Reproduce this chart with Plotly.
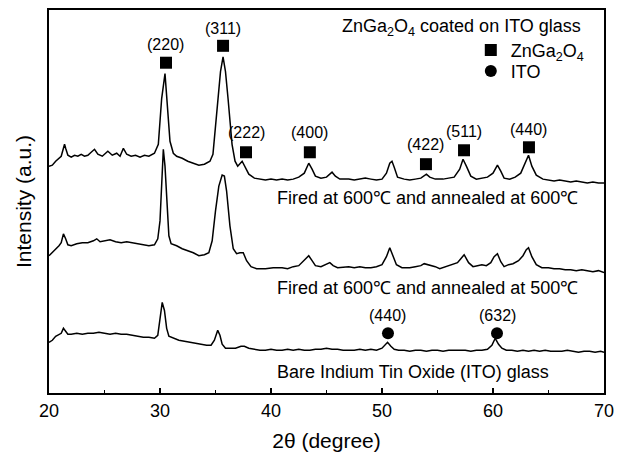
import plotly.graph_objects as go

# ---------------- data (2-theta in degrees, intensity in arbitrary units) ----------------
x_top = [20.0,20.3,20.6,20.9,21.1,21.3,21.4,21.5,21.7,22.0,
         22.3,22.6,22.9,23.2,23.5,23.8,24.1,24.4,24.8,25.3,
         25.7,26.1,26.4,26.7,27.0,27.4,27.8,28.2,28.6,29.0,
         29.5,29.85,30.15,30.45,30.7,30.9,31.2,31.5,32.0,32.5,
         33.0,33.5,34.0,34.5,34.77,35.0,35.23,35.45,35.68,35.9,
         36.13,36.49,36.76,37.0,37.4,37.7,38.0,38.5,39.0,39.5,
         40.0,40.5,41.0,41.5,42.0,42.5,43.0,43.4,43.7,44.0,
         44.5,45.0,45.5,45.8,46.2,47.0,47.5,48.0,48.5,49.0,
         49.5,50.0,50.4,50.7,50.9,51.1,51.4,52.0,52.5,53.0,
         53.5,54.0,54.3,54.8,55.5,56.0,56.5,57.0,57.3,57.6,
         58.0,58.5,59.0,59.5,60.0,60.4,60.7,61.0,61.5,62.0,
         62.5,62.9,63.2,63.5,63.9,64.5,65.0,65.5,66.0,66.5,
         67.0,67.5,68.0,68.5,69.0,69.5,70.0]
y_top = [228,229,233,236,238,246,250,246,239,237,
         239,238,240,238,239,242,245,240,238,243,
         239,241,238,246,240,238,239,237,239,238,
         241,250,296,321,280,253,241,238,236,233,
         231,229,230,233,240,268,296,323,338,323,
         296,250,233,228,233,226,220,216,215,214,
         215,214,215,214,215,217,221,231,225,218,
         216,217,222,218,215,215,214,215,216,215,
         214,215,221,231,233,227,217,215,214,215,
         216,220,217,215,215,216,217,225,235,228,
         218,215,216,217,221,229,223,216,215,217,
         221,231,239,228,219,215,214,213,214,213,
         212,213,212,211,212,211,211]

x_mid = [20.0,20.3,20.6,20.9,21.1,21.3,21.5,21.7,22.0,22.5,
         23.0,23.5,24.0,24.3,24.6,25.0,25.5,26.0,26.5,27.0,
         27.5,28.0,28.5,29.0,29.5,29.8,30.0,30.15,30.3,30.45,
         30.6,30.8,31.0,31.5,32.0,32.5,33.0,33.5,34.0,34.4,
         34.7,35.0,35.3,35.6,35.8,36.0,36.3,36.6,36.9,37.2,
         37.5,37.8,38.2,38.7,39.5,40.2,41.0,41.5,42.0,42.5,
         43.0,43.4,43.7,44.0,44.5,45.0,45.3,45.6,46.0,47.0,
         47.5,48.0,48.5,49.0,49.5,50.0,50.4,50.7,51.0,51.3,
         51.8,52.5,53.0,53.5,53.8,54.2,54.8,55.2,55.8,56.3,
         56.8,57.1,57.4,57.8,58.2,58.6,59.0,59.4,59.8,60.1,
         60.4,60.7,61.0,61.4,61.8,62.3,62.7,63.0,63.2,63.5,
         63.9,64.4,65.0,65.5,66.0,66.5,67.0,67.5,68.0,68.5,
         69.0,69.5,70.0]
y_mid = [138,141,145,148,151,160,155,149,148,150,
         151,151,153,155,152,153,154,152,151,152,
         151,150,149,148,149,155,173,213,245,228,
         193,158,150,148,145,143,141,138,139,141,
         153,183,208,219,218,203,168,145,140,141,
         141,133,127,125,125,126,126,125,127,128,
         133,138,133,128,127,129,131,128,126,127,
         126,127,126,126,127,129,137,146,138,129,
         126,126,127,128,130,129,127,125,127,129,
         131,135,139,131,127,128,129,128,131,137,
         140,132,127,129,130,133,138,144,146,137,
         129,126,126,125,125,124,124,123,124,123,
         122,123,121]

x_bot = [20.0,20.3,20.6,20.9,21.1,21.3,21.5,21.7,22.0,22.5,
         23.0,23.5,24.0,24.5,25.0,25.5,26.0,26.5,27.0,27.5,
         28.0,28.5,29.0,29.5,29.8,30.0,30.2,30.4,30.6,30.8,
         31.2,31.7,32.2,32.7,33.2,33.7,34.2,34.6,34.9,35.2,
         35.4,35.6,35.9,36.3,36.8,37.3,37.6,38.0,38.5,39.0,
         39.5,40.0,40.5,41.0,41.5,42.0,42.5,43.0,43.5,44.0,
         44.5,45.0,45.5,46.0,46.5,47.0,47.5,48.0,48.5,49.0,
         49.5,50.0,50.3,50.5,50.8,51.1,51.5,52.0,52.5,53.0,
         53.5,54.0,54.5,55.0,55.5,56.0,56.5,57.0,57.5,58.0,
         58.5,59.0,59.5,59.9,60.2,60.5,60.8,61.2,61.7,62.2,
         62.7,63.2,63.7,64.2,64.7,65.2,65.7,66.2,66.7,67.2,
         67.7,68.2,68.7,69.2,69.7,70.0]
y_bot = [51,53,57,59,60,65,62,59,59,60,
         59,60,60,61,60,59,60,59,59,58,
         57,56,56,55,58,73,91,83,65,57,
         55,53,52,51,50,49,48,48,53,63,
         58,49,45,45,45,47,47,45,44,43,
         43,44,43,43,44,43,44,43,43,44,
         44,45,44,44,43,43,43,44,43,44,
         43,45,48,51,47,44,43,43,42,43,
         43,42,43,43,42,43,43,43,43,42,
         43,43,44,48,55,49,45,43,43,42,
         43,42,43,42,43,42,42,42,43,42,
         41,42,42,41,42,41]

# ZnGa2O4 reflections (square markers)
zn_hkl = ["(220)", "(311)", "(222)", "(400)", "(422)", "(511)", "(440)"]
zn_x = [30.54, 35.68, 37.75, 43.5, 53.96, 57.39, 63.24]
zn_y = [332, 349, 242, 242, 230, 244, 247]
zn_label_y = [350, 366, 262, 262, 250, 263, 265]

# ITO reflections (circle markers)
ito_hkl = ["(440)", "(632)"]
ito_x = [50.54, 60.36]
ito_y = [60, 60]
ito_label_y = [78, 78]

curve_labels = ["Fired at 600\u2103 and annealed at 600\u2103",
                "Fired at 600\u2103 and annealed at 500\u2103",
                "Bare Indium Tin Oxide (ITO) glass"]
curve_label_y = [196, 106, 21]
curve_label_x = 40.36

FONT = "Arial, 'Liberation Sans', Helvetica, sans-serif"

fig = go.Figure()
for xs, ys in [(x_top, y_top), (x_mid, y_mid), (x_bot, y_bot)]:
    fig.add_trace(go.Scatter(x=xs, y=ys, mode="lines",
                             line=dict(color="black", width=1.5),
                             showlegend=False, hoverinfo="skip"))

fig.add_trace(go.Scatter(x=zn_x, y=zn_y, mode="markers",
                         marker=dict(symbol="square", size=12, color="black"),
                         name="ZnGa<sub>2</sub>O<sub>4</sub>", legend="legend"))
fig.add_trace(go.Scatter(x=ito_x, y=ito_y, mode="markers",
                         marker=dict(symbol="circle", size=12, color="black"),
                         name="ITO", legend="legend2"))

annotations = []
for lab, xx, yy in zip(zn_hkl, zn_x, zn_label_y):
    annotations.append(dict(x=xx, y=yy, xref="x", yref="y", text=lab, showarrow=False,
                            font=dict(size=16, color="black", family=FONT)))
for lab, xx, yy in zip(ito_hkl, ito_x, ito_label_y):
    annotations.append(dict(x=xx, y=yy, xref="x", yref="y", text=lab, showarrow=False,
                            font=dict(size=16, color="black", family=FONT)))
for lab, yy in zip(curve_labels, curve_label_y):
    annotations.append(dict(x=curve_label_x, y=yy, xref="x", yref="y", text=lab,
                            showarrow=False, xanchor="left",
                            font=dict(size=18, color="black", family=FONT)))
annotations.append(dict(x=0.962, y=0.955, xref="paper", yref="paper",
                        text="ZnGa<sub>2</sub>O<sub>4</sub> coated on ITO glass",
                        showarrow=False, xanchor="right", yanchor="middle",
                        font=dict(size=18, color="black", family=FONT)))

legend_style = dict(xanchor="left", yanchor="top", bgcolor="rgba(0,0,0,0)",
                    font=dict(size=18), itemwidth=30)

fig.update_layout(
    width=627, height=461,
    margin=dict(l=49, r=23, t=8, b=68),
    paper_bgcolor="white", plot_bgcolor="white",
    font=dict(family=FONT, size=18, color="black"),
    annotations=annotations,
    legend=dict(x=0.76, y=0.943, **legend_style),
    legend2=dict(x=0.76, y=0.888, **legend_style),
    xaxis=dict(range=[20, 70], tickmode="array", tickvals=[20, 30, 40, 50, 60, 70],
               ticks="inside", ticklen=5, tickwidth=1.5, tickcolor="black",
               minor=dict(tickvals=[25, 35, 45, 55, 65], ticks="inside", ticklen=3,
                          tickwidth=1.2, tickcolor="black"),
               showline=True, linecolor="black", linewidth=2, mirror=True,
               showgrid=False, zeroline=False,
               tickfont=dict(size=18),
               title=dict(text="2\u03b8 (degree)", font=dict(size=21), standoff=14)),
    yaxis=dict(range=[0, 385], showticklabels=False, ticks="",
               showline=True, linecolor="black", linewidth=2, mirror=True,
               showgrid=False, zeroline=False,
               title=dict(text="Intensity (a.u.)", font=dict(size=21), standoff=10)),
)

fig.write_html("out.html")
